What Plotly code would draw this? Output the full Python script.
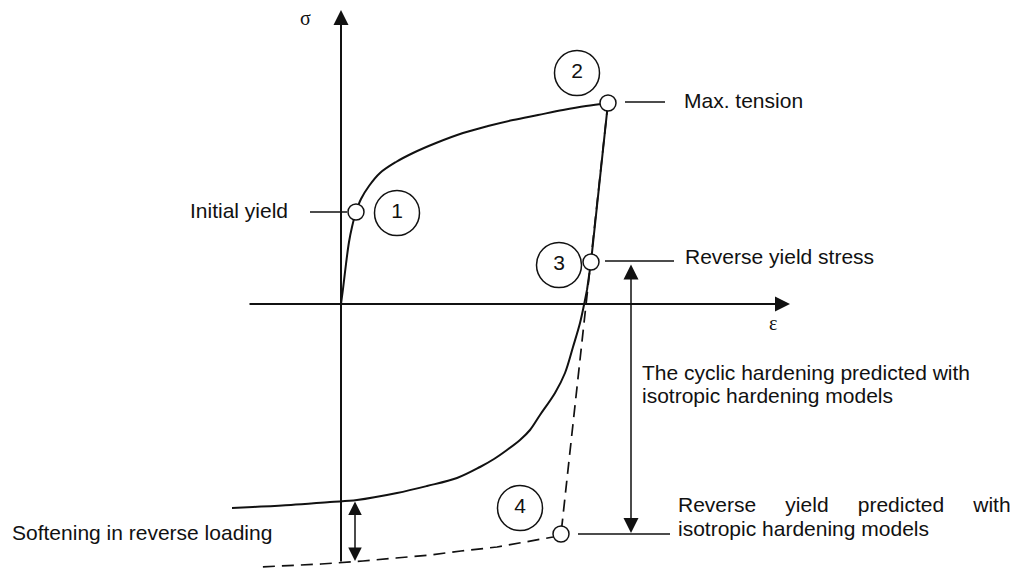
import plotly.graph_objects as go

# ---- schematic data (strain, stress in arbitrary schematic units) ----
load_strain = [0, 2, 5, 8, 11, 15, 20, 28, 39, 55, 72, 95, 122, 147, 172, 197, 222, 245, 267]
load_stress = [0, 15, 40, 62, 77, 92, 105, 118, 131, 142, 151, 161, 171, 178, 184, 189, 194, 198, 201]

# elastic unloading (straight) then reverse plastic loading
unload_strain = [267, 250, 246]
unload_stress = [201, 42, 14]
reverse_strain = [246, 243, 239, 232, 224, 214, 199, 189, 179, 166, 153, 139, 116, 86, 56, 16, -11, -50, -88, -109]
reverse_stress = [14, -1, -19, -43, -69, -89, -111, -126, -136, -146, -155, -163, -174, -182, -189, -196, -198, -201, -203, -204]

# isotropic hardening prediction (dashed)
iso_strain = [267, 220, 212, 190, 156, 120, 89, 55, 22, -20, -81]
iso_stress = [201, -230, -233, -237, -243, -247, -251, -254, -257, -260, -263]

point_ids = ["1", "2", "3", "4"]
point_strain = [15, 267, 250, 220]
point_stress = [92, 201, 42, -230]
badge_strain = [56, 236, 218, 179]
badge_stress = [91, 231, 39, -204]

# leader lines: (x0, x1, y)
leaders = [(-31, 6, 92), (284, 324, 202), (264, 333, 43), (237, 329, -230)]

axis_x = [-93, 449]
axis_y = [-259, 294]

FONT = "Liberation Sans, Arial, Helvetica, sans-serif"
SERIF = "Liberation Serif, Times New Roman, serif"
INK = "#111111"

fig = go.Figure()

fig.add_trace(go.Scatter(x=load_strain, y=load_stress, mode="lines",
                         line=dict(color=INK, width=2, shape="spline", smoothing=1.0),
                         hoverinfo="skip"))
fig.add_trace(go.Scatter(x=iso_strain, y=iso_stress, mode="lines",
                         line=dict(color=INK, width=1.7, dash="12px,7px"),
                         hoverinfo="skip"))
fig.add_trace(go.Scatter(x=unload_strain, y=unload_stress, mode="lines",
                         line=dict(color=INK, width=2), hoverinfo="skip"))
fig.add_trace(go.Scatter(x=reverse_strain, y=reverse_stress, mode="lines",
                         line=dict(color=INK, width=2, shape="spline", smoothing=1.0),
                         hoverinfo="skip"))

for x0, x1, y in leaders:
    fig.add_trace(go.Scatter(x=[x0, x1], y=[y, y], mode="lines",
                             line=dict(color=INK, width=1.5), hoverinfo="skip"))

fig.add_trace(go.Scatter(x=point_strain, y=point_stress, mode="markers",
                         marker=dict(size=16, color="white", line=dict(color=INK, width=1.5)),
                         hoverinfo="skip"))
fig.add_trace(go.Scatter(x=badge_strain, y=badge_stress, mode="markers+text",
                         text=point_ids, textposition="middle center",
                         textfont=dict(family=FONT, size=21, color=INK),
                         marker=dict(size=45, color="rgba(255,255,255,0)", line=dict(color=INK, width=1.5)),
                         hoverinfo="skip"))

ann = []
# axes with arrows
ann.append(dict(x=0, y=axis_y[1], ax=0, ay=axis_y[0], xref="x", yref="y", axref="x", ayref="y",
                text="", showarrow=True, arrowhead=2, arrowsize=1.5, arrowwidth=2, arrowcolor=INK))
ann.append(dict(x=axis_x[1], y=0, ax=axis_x[0], ay=0, xref="x", yref="y", axref="x", ayref="y",
                text="", showarrow=True, arrowhead=2, arrowsize=1.5, arrowwidth=2, arrowcolor=INK))
# double arrows
ann.append(dict(x=290, y=point_stress[3] + 1, ax=290, ay=point_stress[2] - 1, xref="x", yref="y",
                axref="x", ayref="y", text="", showarrow=True, arrowhead=2, arrowsize=2,
                arrowwidth=1.5, arrowside="end+start", startarrowhead=2, startarrowsize=2,
                arrowcolor=INK))
ann.append(dict(x=14, y=-257, ax=14, ay=-196, xref="x", yref="y",
                axref="x", ayref="y", text="", showarrow=True, arrowhead=2, arrowsize=1.8,
                arrowwidth=1.5, arrowside="end+start", startarrowhead=2, startarrowsize=1.8,
                arrowcolor=INK))

def label(txt, x, y, xanchor="left", size=21, family=FONT):
    ann.append(dict(x=x, y=y, xref="x", yref="y", text=txt, showarrow=False,
                    xanchor=xanchor, yanchor="middle",
                    font=dict(family=family, size=size, color=INK)))

NB = "\u00a0"
SP = " " + NB * 0
label("Initial yield", -51, 94, xanchor="right")
label("Max. tension", 341, 204)
label("Reverse yield stress", 342, 48)
label("The cyclic hardening predicted with", 299, -68)
label("isotropic hardening models", 299, -91)
label("Reverse" + NB * 5 + "yield" + NB * 5 + "predicted" + NB * 5 + "with", 335, -200)
label("isotropic hardening models", 335, -224)
label("Softening in reverse loading", -331, -228)
label("σ", -36, 286, xanchor="center", size=20, family=SERIF)
label("ε", 432, -19, xanchor="center", size=20, family=SERIF)

fig.update_layout(
    width=1023, height=569, autosize=False,
    margin=dict(l=0, r=0, t=0, b=0),
    paper_bgcolor="white", plot_bgcolor="white",
    showlegend=False,
    xaxis=dict(range=[-341, 682], visible=False, fixedrange=True),
    yaxis=dict(range=[-265, 304], visible=False, fixedrange=True),
    annotations=ann,
)

fig.write_html("out.html", config={"displayModeBar": False, "staticPlot": True},
               post_script="document.body.style.margin='0';")
